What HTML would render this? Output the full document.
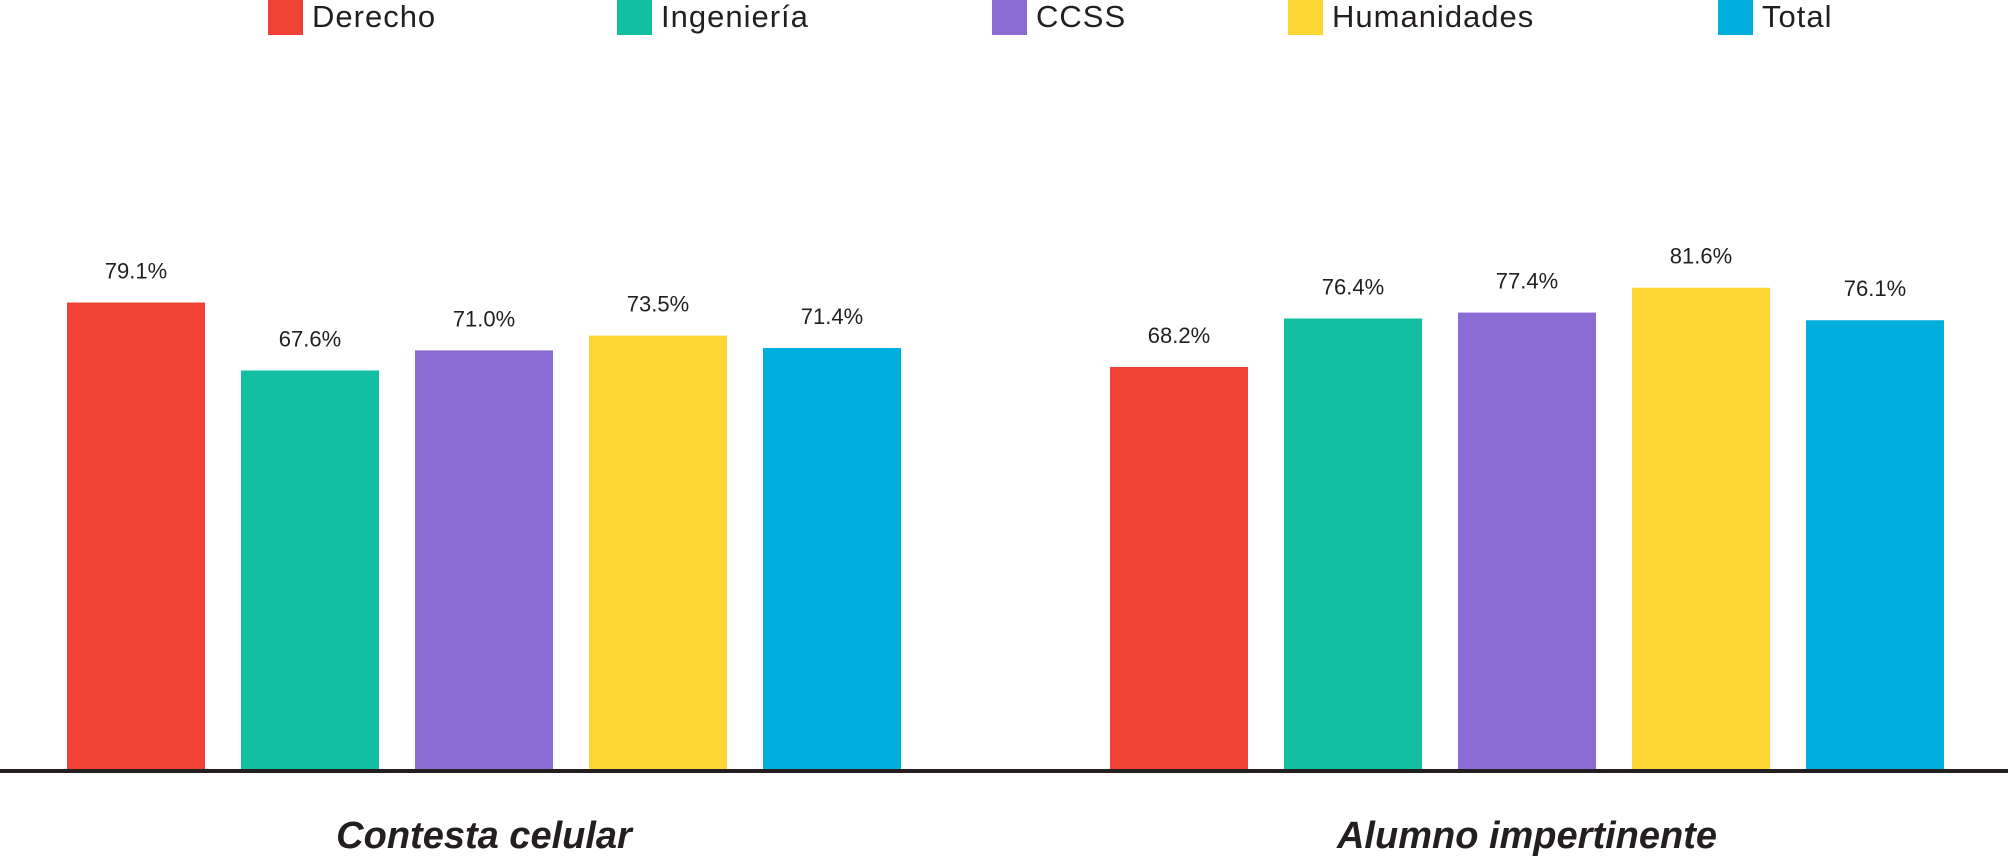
<!DOCTYPE html>
<html><head><meta charset="utf-8"><style>
body{margin:0;width:2008px;height:858px;background:#fff;overflow:hidden;font-family:"Liberation Sans",sans-serif}
svg{display:block}
</style></head><body>
<svg id="chart" width="2008" height="858"></svg>
<script>
const categories = ["Contesta celular", "Alumno impertinente"];
const seriesNames = ["Derecho", "Ingeniería", "CCSS", "Humanidades", "Total"];
const seriesColors = ["#ef4136", "#12bfa1", "#8b6bd4", "#fdd633", "#00afdb"];
const valuesDerecho = [79.1, 68.2];
const valuesIngenieria = [67.6, 76.4];
const valuesCCSS = [71.0, 77.4];
const valuesHumanidades = [73.5, 81.6];
const valuesTotal = [71.4, 76.1];
const series = [valuesDerecho, valuesIngenieria, valuesCCSS, valuesHumanidades, valuesTotal];

const NS = "http://www.w3.org/2000/svg";
const svg = document.getElementById("chart");
const baseY = 770, pxPerPct = 5.91;
const groupStart = [67, 1110];
const barStep = [174, 174];
const barW = 138;
const y = v => baseY - v * pxPerPct;
function mk(tag, attrs, parent) {
  const e = document.createElementNS(NS, tag);
  for (const k in attrs) e.setAttribute(k, attrs[k]);
  (parent || svg).appendChild(e);
  return e;
}
// legend
const legendX = [268, 617, 992, 1288, 1718];
seriesNames.forEach((n, i) => {
  const g = mk("g", {});
  
  
  mk("rect", {x: legendX[i], y: 0, width: 35, height: 35, fill: seriesColors[i]}, g);
  const t = mk("text", {x: legendX[i] + 44, y: 27, "font-size": 31, fill: "#231f20", "letter-spacing": "1"}, g);
  t.textContent = n;
});
// bars
categories.forEach((c, ci) => {
  series.forEach((vals, si) => {
    const v = vals[ci];
    const x = groupStart[ci] + si * barStep[ci];
    const r = mk("rect", {x: x, y: y(v), width: barW, height: baseY - y(v), fill: seriesColors[si]});
    
    
    const t = mk("text", {x: x + barW / 2, y: y(v) - 24, "font-size": 22, fill: "#231f20", "text-anchor": "middle"});
    
    
    t.textContent = v.toFixed(1) + "%";
  });
  const cx = groupStart[ci] + 4 * barStep[ci] / 2 + barW / 2;
  const ct = mk("text", {x: cx, y: 848, "font-size": 38, "font-weight": "bold", "font-style": "italic", fill: "#231f20", "text-anchor": "middle"});
  
  
  ct.textContent = c;
});
const ax = mk("rect", {x: 0, y: 769, width: 2008, height: 4, fill: "#231f20"});


</script>
</body></html>
